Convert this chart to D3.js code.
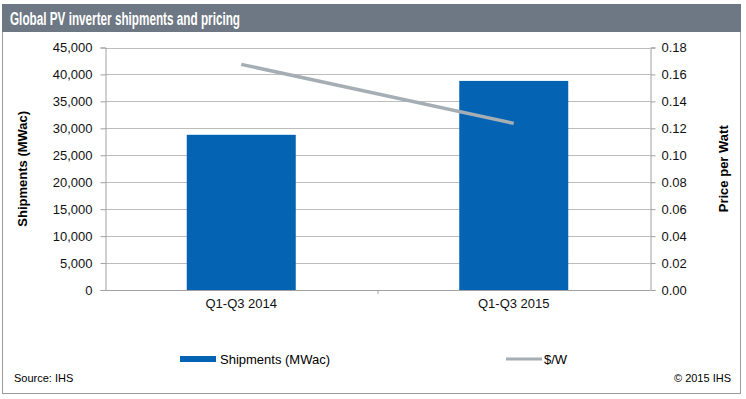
<!DOCTYPE html>
<html><head><meta charset="utf-8">
<script src="https://cdn.jsdelivr.net/npm/d3@7"></script>
<style>body{margin:0;background:#fff}svg{display:block;font-family:"Liberation Sans",Arial,sans-serif}</style>
</head><body><svg id="c" width="746" height="399"></svg>
<script>
const categories = ["Q1-Q3 2014", "Q1-Q3 2015"];
const shipments = [28800, 38800];
const pricePerWatt = [0.1675, 0.1237];
const leftTicks = [0,5000,10000,15000,20000,25000,30000,35000,40000,45000];
const rightTicks = [0,0.02,0.04,0.06,0.08,0.10,0.12,0.14,0.16,0.18];

const svg = d3.select("#c");
const L = 105, R = 650, T = 47.5, B = 290;

// frame
svg.append("rect").attr("x",2.5).attr("y",4.5).attr("width",738).attr("height",389).attr("fill","#fff").attr("stroke","#9a9a9a");
svg.append("rect").attr("x",2).attr("y",4).attr("width",739).attr("height",28).attr("fill","#6e7884");
svg.append("text").attr("x",10).attr("y",25).attr("fill","#fff").attr("font-size",18).attr("font-weight","bold")
  .attr("textLength",230).attr("lengthAdjust","spacingAndGlyphs").text("Global PV inverter shipments and pricing");

const x = d3.scaleBand().domain(categories).range([L,R]).paddingInner(0.6).paddingOuter(0.3);
const xc = d3.scaleBand().domain(categories).range([L,R]);
const y = d3.scaleLinear().domain([0,45000]).range([B,T]);
const y2 = d3.scaleLinear().domain([0,0.18]).range([B,T]);

// gridlines
svg.append("g").selectAll("line").data(leftTicks.slice(1)).join("line")
  .attr("x1",L).attr("x2",R).attr("y1",d=>Math.round(y(d))+0.5).attr("y2",d=>Math.round(y(d))+0.5)
  .attr("stroke","#bdbdbd");

// bars
svg.append("g").selectAll("rect").data(shipments).join("rect")
  .attr("x",(d,i)=>x(categories[i])).attr("width",x.bandwidth())
  .attr("y",d=>y(d)).attr("height",d=>B-y(d)).attr("fill","#0563b3");

// axes
const fmt = d3.format(",");
const ax = svg.append("g").attr("transform",`translate(${L+0.5},0)`)
  .call(d3.axisLeft(y).tickValues(leftTicks).tickFormat(fmt).tickSize(5).tickPadding(8));
const ax2 = svg.append("g").attr("transform",`translate(${R+0.5},0)`)
  .call(d3.axisRight(y2).tickValues(rightTicks).tickFormat(d3.format(".2f")).tickSize(5).tickPadding(6));
const axb = svg.append("g").attr("transform",`translate(0,${B+0.5})`)
  .call(d3.axisBottom(xc).tickSize(0).tickPadding(8));
[ax,ax2,axb].forEach(g=>{
  g.selectAll("path,line").attr("stroke","#a0a0a0");
  g.selectAll("text").attr("font-size",13).attr("fill","#111").attr("font-family","Liberation Sans, Arial, sans-serif");
});
axb.select(".domain").attr("d",`M${L},0H${R}`);
axb.selectAll(".tick text").attr("dy","0.71em");
// middle tick mark on x axis
svg.append("line").attr("x1",xc(categories[1])+0.5).attr("x2",xc(categories[1])+0.5).attr("y1",B).attr("y2",B+4).attr("stroke","#a0a0a0");

// line
const line = d3.line().x((d,i)=>xc(categories[i])+xc.bandwidth()/2).y(d=>y2(d));
svg.append("path").datum(pricePerWatt).attr("d",line).attr("fill","none").attr("stroke","#a5aeb4").attr("stroke-width",3.5);

// axis titles
svg.append("text").attr("transform",`translate(27,${(T+B)/2}) rotate(-90)`).attr("text-anchor","middle")
  .attr("font-size",13).attr("font-weight","bold").text("Shipments (MWac)");
svg.append("text").attr("transform",`translate(728,${(T+B)/2}) rotate(-90)`).attr("text-anchor","middle")
  .attr("font-size",13).attr("font-weight","bold").text("Price per Watt");

// legend
svg.append("rect").attr("x",180).attr("y",356).attr("width",36).attr("height",6).attr("fill","#0563b3");
svg.append("text").attr("x",220).attr("y",364).attr("font-size",13).text("Shipments (MWac)");
svg.append("line").attr("x1",506).attr("x2",542).attr("y1",359).attr("y2",359).attr("stroke","#a5aeb4").attr("stroke-width",3);
svg.append("text").attr("x",544).attr("y",364).attr("font-size",13).text("$/W");

svg.append("text").attr("x",14).attr("y",382).attr("font-size",11).text("Source: IHS");
svg.append("text").attr("x",731).attr("y",382).attr("font-size",11).attr("text-anchor","end").text("© 2015 IHS");
</script></body></html>
